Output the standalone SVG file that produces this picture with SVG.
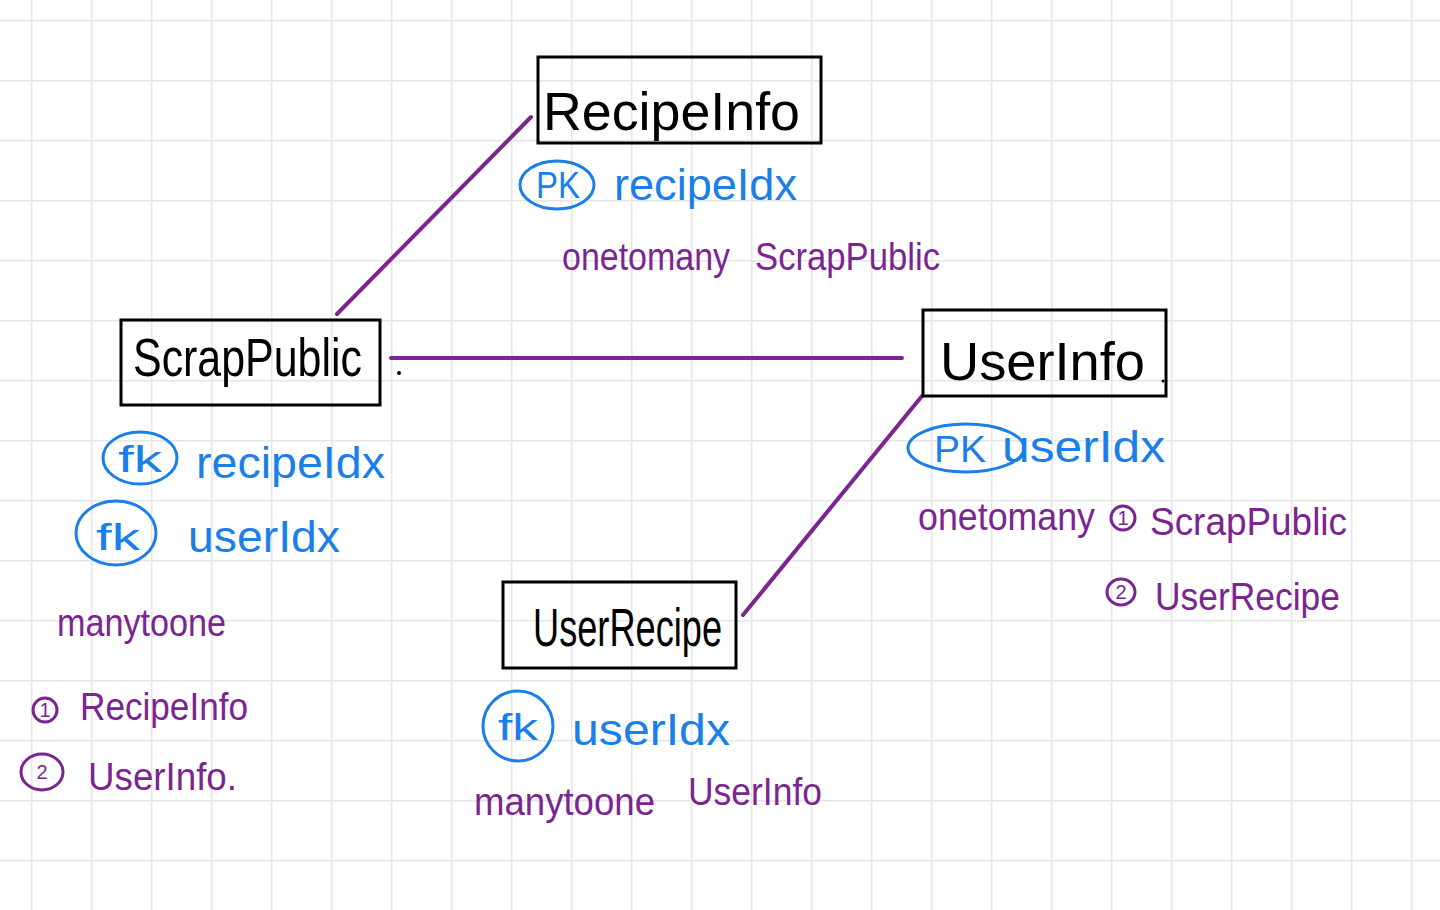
<svg xmlns="http://www.w3.org/2000/svg" width="1440" height="910" viewBox="0 0 1440 910">
<defs>
<pattern id="grid" x="31" y="20" width="60" height="60" patternUnits="userSpaceOnUse">
<path d="M0 0 H60 M0 0 V60" fill="none" stroke="#e6e6e6" stroke-width="3"/>
</pattern>
</defs>
<style>
.box{fill:none;stroke:#000;stroke-width:3}
.title{font-family:"Liberation Sans",sans-serif;fill:#000;font-size:54px}
.blue{font-family:"Liberation Sans",sans-serif;fill:#1a7fe8;font-size:44px}
.purple{font-family:"Liberation Sans",sans-serif;fill:#7b2590;font-size:38px}
.bring{fill:none;stroke:#1a7fe8;stroke-width:3}
.pring{fill:none;stroke:#7b2590;stroke-width:3}
.tag{font-family:"Liberation Sans",sans-serif;fill:#1a7fe8;font-size:36px}
.num{font-family:"Liberation Sans",sans-serif;fill:#7b2590;font-size:20px;text-anchor:middle}
.conn{stroke:#7b2590;stroke-width:4;stroke-linecap:round;fill:none}
</style>
<rect width="1440" height="910" fill="#ffffff"/>
<rect width="1440" height="910" fill="url(#grid)"/>

<g id="connectors">
<line class="conn" x1="337" y1="314" x2="531" y2="117"/>
<line class="conn" x1="391" y1="358" x2="902" y2="358"/>
<line class="conn" x1="922" y1="396" x2="743" y2="615"/>
<circle cx="399" cy="373" r="2" fill="#000"/>
<circle cx="1163" cy="381" r="1.5" fill="#000"/>
</g>

<g id="RecipeInfo">
<rect class="box" x="538" y="57" width="283" height="86"/>
<text class="title" x="543" y="130" textLength="257" lengthAdjust="spacingAndGlyphs" font-size="58">RecipeInfo</text>
<ellipse class="bring" cx="557" cy="185" rx="37" ry="24"/>
<text class="tag" x="536" y="198" textLength="44" lengthAdjust="spacingAndGlyphs">PK</text>
<text class="blue" x="614" y="200" textLength="183" lengthAdjust="spacingAndGlyphs">recipeIdx</text>
<text class="purple" x="562" y="270" textLength="168" lengthAdjust="spacingAndGlyphs">onetomany</text>
<text class="purple" x="755" y="270" textLength="185" lengthAdjust="spacingAndGlyphs" font-size="42">ScrapPublic</text>
</g>

<g id="ScrapPublic">
<rect class="box" x="121" y="320" width="259" height="85"/>
<text class="title" x="133" y="376" textLength="229" lengthAdjust="spacingAndGlyphs">ScrapPublic</text>
<ellipse class="bring" cx="140" cy="458" rx="37" ry="26"/>
<text class="tag" x="118" y="472" textLength="44" lengthAdjust="spacingAndGlyphs">fk</text>
<text class="blue" x="196" y="478" textLength="189" lengthAdjust="spacingAndGlyphs">recipeIdx</text>
<ellipse class="bring" cx="116" cy="533" rx="40" ry="32"/>
<text class="tag" x="96" y="550" textLength="44" lengthAdjust="spacingAndGlyphs">fk</text>
<text class="blue" x="188" y="552" textLength="152" lengthAdjust="spacingAndGlyphs">userIdx</text>
<text class="purple" x="57" y="636" textLength="169" lengthAdjust="spacingAndGlyphs">manytoone</text>
<ellipse class="pring" cx="45" cy="710" rx="12" ry="12"/>
<text class="num" x="45" y="717">1</text>
<text class="purple" x="80" y="720" textLength="168" lengthAdjust="spacingAndGlyphs">RecipeInfo</text>
<ellipse class="pring" cx="42" cy="772" rx="21" ry="18"/>
<text class="num" x="42" y="779">2</text>
<text class="purple" x="88" y="790" textLength="149" lengthAdjust="spacingAndGlyphs">UserInfo.</text>
</g>

<g id="UserInfo">
<rect class="box" x="923" y="310" width="243" height="86"/>
<text class="title" x="940" y="380" textLength="205" lengthAdjust="spacingAndGlyphs" font-size="58">UserInfo</text>
<ellipse class="bring" cx="966" cy="448" rx="58" ry="24"/>
<text class="tag" x="934" y="462" textLength="52" lengthAdjust="spacingAndGlyphs">PK</text>
<text class="blue" x="1002" y="462" textLength="163" lengthAdjust="spacingAndGlyphs">userIdx</text>
<text class="purple" x="918" y="530" textLength="177" lengthAdjust="spacingAndGlyphs" font-size="36">onetomany</text>
<ellipse class="pring" cx="1123" cy="518" rx="12" ry="12"/>
<text class="num" x="1123" y="525">1</text>
<text class="purple" x="1150" y="535" textLength="197" lengthAdjust="spacingAndGlyphs" font-size="40">ScrapPublic</text>
<ellipse class="pring" cx="1121" cy="592" rx="14" ry="13"/>
<text class="num" x="1121" y="599">2</text>
<text class="purple" x="1155" y="610" textLength="185" lengthAdjust="spacingAndGlyphs" font-size="40">UserRecipe</text>
</g>

<g id="UserRecipe">
<rect class="box" x="503" y="582" width="233" height="86"/>
<text class="title" x="533" y="646" textLength="189" lengthAdjust="spacingAndGlyphs">UserRecipe</text>
<ellipse class="bring" cx="518" cy="726" rx="35" ry="35"/>
<text class="tag" x="498" y="740" textLength="40" lengthAdjust="spacingAndGlyphs">fk</text>
<text class="blue" x="572" y="745" textLength="158" lengthAdjust="spacingAndGlyphs">userIdx</text>
<text class="purple" x="474" y="815" textLength="181" lengthAdjust="spacingAndGlyphs">manytoone</text>
<text class="purple" x="688" y="805" textLength="134" lengthAdjust="spacingAndGlyphs">UserInfo</text>
</g>
</svg>
